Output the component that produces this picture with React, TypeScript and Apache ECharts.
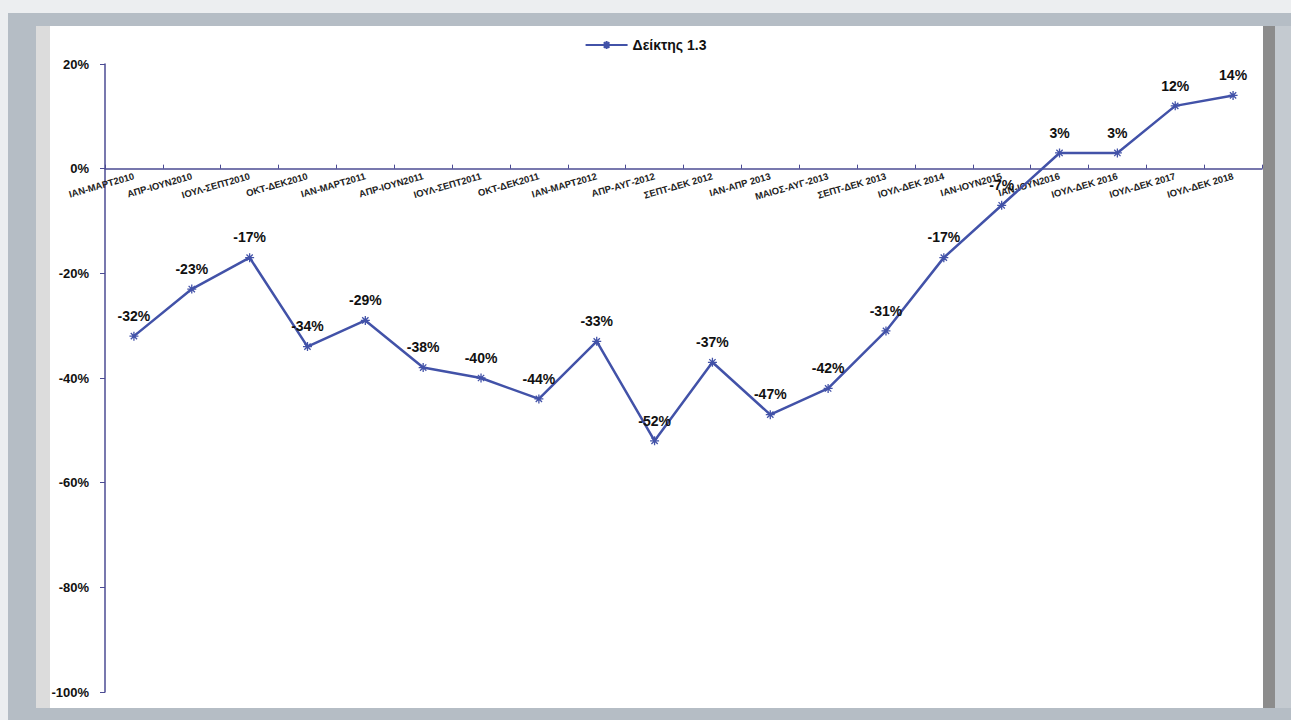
import React, { useEffect, useRef } from "react";
import * as echarts from "echarts";

const categories = [
  "ΙΑΝ-ΜΑΡΤ2010", "ΑΠΡ-ΙΟΥΝ2010", "ΙΟΥΛ-ΣΕΠΤ2010", "ΟΚΤ-ΔΕΚ2010",
  "ΙΑΝ-ΜΑΡΤ2011", "ΑΠΡ-ΙΟΥΝ2011", "ΙΟΥΛ-ΣΕΠΤ2011", "ΟΚΤ-ΔΕΚ2011",
  "ΙΑΝ-ΜΑΡΤ2012", "ΑΠΡ-ΑΥΓ-2012", "ΣΕΠΤ-ΔΕΚ 2012", "ΙΑΝ-ΑΠΡ 2013",
  "ΜΑΙΟΣ-ΑΥΓ-2013", "ΣΕΠΤ-ΔΕΚ 2013", "ΙΟΥΛ-ΔΕΚ 2014", "ΙΑΝ-ΙΟΥΝ2015",
  "ΙΑΝ-ΙΟΥΝ2016", "ΙΟΥΛ-ΔΕΚ 2016", "ΙΟΥΛ-ΔΕΚ 2017", "ΙΟΥΛ-ΔΕΚ 2018",
];
const values = [-32, -23, -17, -34, -29, -38, -40, -44, -33, -52, -37, -47, -42, -31, -17, -7, 3, 3, 12, 14];
const seriesName = "Δείκτης 1.3";
const yMin = -100;
const yMax = 20;
const yStep = 20;

const LINE = "#4252a8";
const AXIS = "#4b4b93";
const STAR = "path://M0,5L10,5M5,0L5,10M1.5,1.5L8.5,8.5M8.5,1.5L1.5,8.5";

const GRID_TOP = 64;
const GRID_BOTTOM = 28;
const H = 720;

export default function App() {
  const ref = useRef<HTMLDivElement>(null);
  useEffect(() => {
    document.body.style.margin = "0";
    const chart = echarts.init(ref.current!, undefined, { renderer: "svg" });
    const gridH = H - GRID_TOP - GRID_BOTTOM;
    const zeroOffset = (gridH * (0 - yMin)) / (yMax - yMin);
    chart.setOption({
      animation: false,
      backgroundColor: "#b5bdc5",
      textStyle: { fontFamily: "Liberation Sans, Arial, sans-serif" },
      graphic: [
        { type: "rect", z: -10, shape: { x: 0, y: 0, width: 1291, height: 13 }, style: { fill: "#eceef0" }, silent: true },
        { type: "rect", z: -10, shape: { x: 0, y: 0, width: 8, height: 720 }, style: { fill: "#eceef0" }, silent: true },
        { type: "rect", z: -9, shape: { x: 36, y: 26, width: 1227, height: 682 }, style: { fill: "#ffffff" }, silent: true },
        { type: "rect", z: -8, shape: { x: 36, y: 26, width: 14, height: 682 }, style: { fill: "#dcdcdc" }, silent: true },
        { type: "rect", z: -8, shape: { x: 1263, y: 26, width: 12, height: 682 }, style: { fill: "#8c8c8c" }, silent: true },
        { type: "rect", z: -8, shape: { x: 1275, y: 26, width: 16, height: 682 }, style: { fill: "#c4cad0" }, silent: true },
      ],
      legend: {
        top: 33,
        left: "center",
        itemWidth: 42,
        itemHeight: 10,
        textStyle: { fontSize: 14, fontWeight: "bold", color: "#111" },
        data: [seriesName],
      },
      grid: { left: 105, right: 29, top: GRID_TOP, bottom: GRID_BOTTOM, containLabel: false },
      xAxis: {
        type: "category",
        data: categories,
        boundaryGap: true,
        position: "bottom",
        offset: -zeroOffset,
        axisLine: { onZero: false, lineStyle: { color: AXIS, width: 1.5 } },
        axisTick: { show: true, inside: true, length: 4, lineStyle: { color: AXIS } },
        axisLabel: {
          interval: 0,
          rotate: 16,
          margin: 7,
          fontSize: 9.5,
          fontWeight: "bold",
          color: "#222",
        },
        splitLine: { show: false },
      },
      yAxis: {
        type: "value",
        min: yMin,
        max: yMax,
        interval: yStep,
        axisLine: { show: true, lineStyle: { color: AXIS, width: 1.5 } },
        axisTick: { show: true, length: 5, lineStyle: { color: AXIS } },
        axisLabel: {
          formatter: "{value}%",
          fontSize: 13,
          fontWeight: "bold",
          color: "#111",
          margin: 16,
        },
        splitLine: { show: false },
      },
      series: [
        {
          name: seriesName,
          type: "line",
          data: values,
          symbol: STAR,
          symbolSize: 9,
          lineStyle: { color: LINE, width: 2.5 },
          itemStyle: { color: LINE, borderColor: LINE, borderWidth: 1.3 },
          label: {
            show: true,
            position: "top",
            distance: 8,
            formatter: "{c}%",
            fontSize: 14,
            fontWeight: "bold",
            color: "#111",
          },
        },
      ],
    });
    return () => chart.dispose();
  }, []);
  return <div ref={ref} style={{ width: 1291, height: 720 }} />;
}
